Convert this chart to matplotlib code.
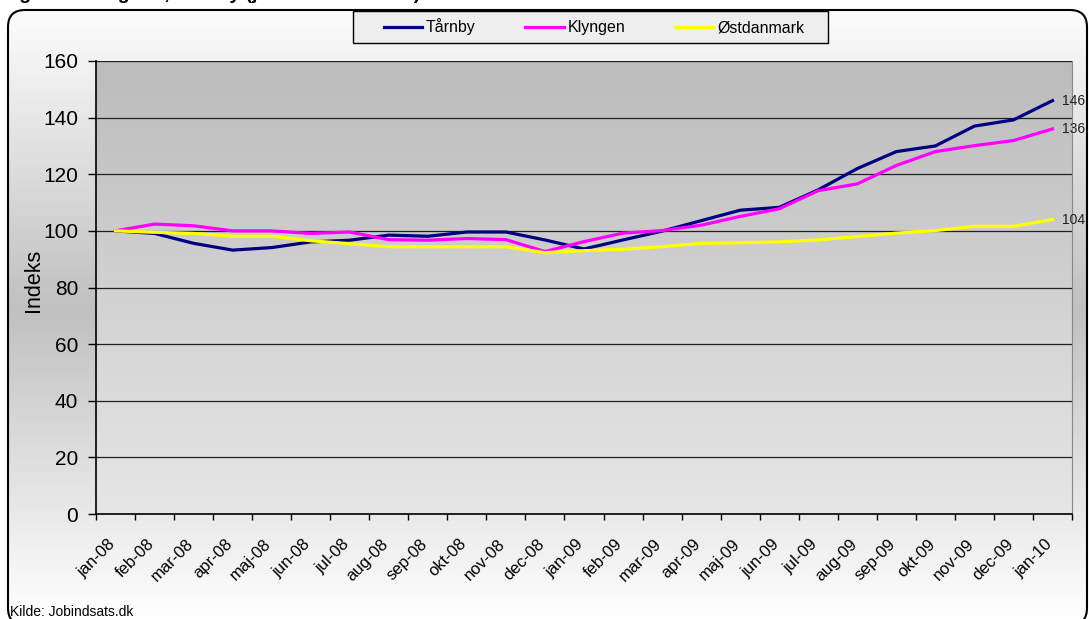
"""
Ledighed i Tårnby, Klyngen og Østdanmark, indeks (januar 2008 = 100).
"""

import numpy as np
import matplotlib.pyplot as plt
from matplotlib.patches import FancyBboxPatch, Rectangle
from matplotlib.transforms import ScaledTranslation
from matplotlib.colors import LinearSegmentedColormap

plt.rcParams['font.family'] = ['Liberation Sans', 'DejaVu Sans']

months = [
    'jan-08', 'feb-08', 'mar-08', 'apr-08', 'maj-08', 'jun-08', 'jul-08',
    'aug-08', 'sep-08', 'okt-08', 'nov-08', 'dec-08', 'jan-09', 'feb-09',
    'mar-09', 'apr-09', 'maj-09', 'jun-09', 'jul-09', 'aug-09', 'sep-09',
    'okt-09', 'nov-09', 'dec-09', 'jan-10',
]
taarnby = [100.0, 99.1, 95.6, 93.2, 94.1, 96.1, 96.7, 98.5, 98.1, 99.6, 99.6, 96.8,
           93.6, 96.8, 99.9, 103.6, 107.3, 108.3, 114.5, 122.0, 128.0, 130.0, 137.0,
           139.2, 146.0]
klyngen = [100.0, 102.4, 101.8, 100.0, 100.0, 99.1, 99.6, 96.9, 96.7, 97.3, 96.9, 92.7,
           96.2, 99.2, 100.1, 102.0, 105.1, 107.8, 114.2, 116.6, 123.1, 128.0, 130.1,
           131.9, 136.0]
oestdanmark = [100.0, 99.5, 99.1, 98.1, 98.1, 96.5, 95.5, 94.4, 94.4, 94.4, 94.4, 92.3,
               93.0, 93.5, 94.4, 95.6, 95.8, 96.1, 96.8, 98.0, 99.2, 100.1, 101.6,
               101.6, 104.0]
series_names = ['Tårnby', 'Klyngen', 'Østdanmark']
series_colors = ['#000080', '#ff00ff', '#ffff00']
yticks = [0, 20, 40, 60, 80, 100, 120, 140, 160]

W, H = 1089, 619
fig = plt.figure(figsize=(W / 100, H / 100), dpi=100)

# chart area: rounded frame with a white-grey-white gradient
bg = fig.add_axes([0, 0, 1, 1], zorder=-1)
bg.axis('off')
frame = FancyBboxPatch((0.08, -0.06), 10.79, 6.15,
                       boxstyle='round,pad=0,rounding_size=0.17',
                       transform=fig.dpi_scale_trans,
                       facecolor='none', edgecolor='black', linewidth=1.5)
bg.add_patch(frame)
grad = np.concatenate([np.linspace(1, 0, 256), np.linspace(0, 1, 256)]).reshape(-1, 1)
bg_cmap = LinearSegmentedColormap.from_list('bg', ['#c0c0c0', '#ffffff'])
im = bg.imshow(grad, aspect='auto', cmap=bg_cmap, extent=[0, 1, 0, 1], vmin=0, vmax=1)
im.set_clip_path(frame)
bg.set_xlim(0, 1)
bg.set_ylim(0, 1)

# plot area
ax = fig.add_axes([96 / W, 1 - 514 / H, (1072 - 96) / W, (514 - 61) / H])
x = np.arange(len(months))
pa_cmap = LinearSegmentedColormap.from_list('pa', ['#bcbcbc', '#e6e6e6'])
ax.imshow(np.linspace(0, 1, 256).reshape(-1, 1), cmap=pa_cmap, aspect='auto',
          extent=[-0.5, len(months) - 0.5, 0, 160], zorder=0)

for vals, name, color in zip([taarnby, klyngen, oestdanmark], series_names, series_colors):
    ax.plot(x, vals, color=color, lw=2.3, label=name, zorder=3, solid_joinstyle='round')
    ax.annotate(f'{vals[-1]:.0f}', xy=(x[-1], vals[-1]), xytext=(10, 0),
                textcoords='offset pixels', ha='left', va='center', fontsize=10,
                color='#202020', annotation_clip=False)

ax.set_xlim(-0.5, len(months) - 0.5)
ax.set_ylim(0, 160)
ax.set_yticks(yticks)
ax.tick_params(axis='y', length=5.8, width=1, pad=7, labelsize=15, direction='out')
ax.set_xticks(x, months, rotation=45, ha='right', va='top', rotation_mode='anchor',
              fontsize=12)
ax.set_xticks(np.arange(-0.5, len(months), 1), minor=True)
ax.tick_params(axis='x', which='major', length=0, pad=16)
ax.tick_params(axis='x', which='minor', length=4, width=1, direction='out')
offset = ScaledTranslation(-0.08, 0, fig.dpi_scale_trans)
for lbl in ax.get_xticklabels():
    lbl.set_transform(lbl.get_transform() + offset)

ax.set_ylabel('Indeks', fontsize=15.5)
ax.yaxis.set_label_coords((44 - 96) / 976, (514 - 280) / 453)

ax.set_axisbelow(True)
ax.grid(axis='y', color='#202020', lw=0.9)
ax.grid(axis='x', visible=False)
ax.spines['top'].set_visible(False)
ax.spines['right'].set_color('#888888')
ax.spines['left'].set_linewidth(1.2)
ax.spines['bottom'].set_linewidth(1.2)

# legend box at the top
fig.add_artist(Rectangle((353 / W, 1 - 43 / H), 475 / W, 32 / H, transform=fig.transFigure,
                         facecolor='#eeeeee', edgecolor='black', linewidth=1, zorder=1))
fig.legend(loc='center', bbox_to_anchor=(594 / W, 1 - 27 / H), ncol=3, frameon=False,
           fontsize=11.5, handlelength=2.4, handletextpad=0.25, columnspacing=3.1,
           borderpad=0)

# title sits above the visible area; only its descenders show, as in the original
fig.text(2 / W, 1 + 1 / H, 'Figur 1. Ledighed, Tårnby (januar 2008 = 100)',
         fontsize=14, fontweight='bold', ha='left', va='baseline')
fig.text(10 / W, 1 - 616 / H, 'Kilde: Jobindsats.dk', fontsize=10, ha='left', va='baseline')

fig.savefig('out.png', dpi=100)
